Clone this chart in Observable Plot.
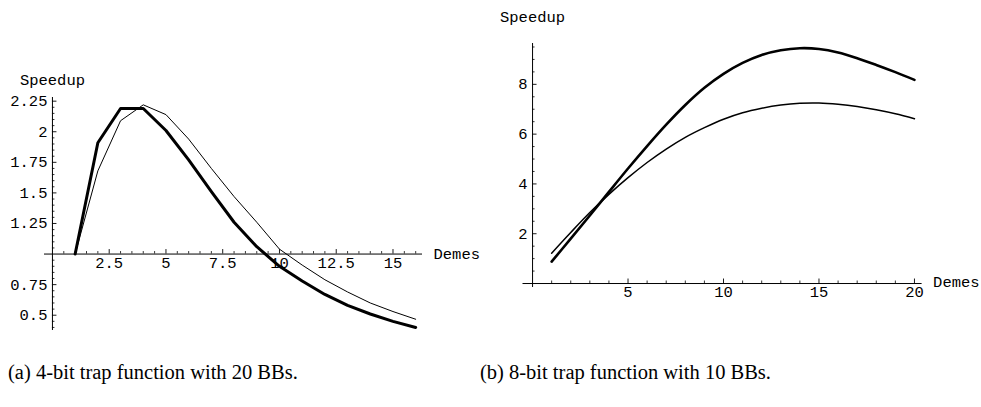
<!DOCTYPE html>
<html>
<head>
<meta charset="utf-8">
<script src="https://cdn.jsdelivr.net/npm/d3@7"></script>
<script src="https://cdn.jsdelivr.net/npm/@observablehq/plot@0.6"></script>
<style>
  html, body { margin: 0; padding: 0; background: #fff; }
  #page { position: relative; width: 981px; height: 407px; overflow: hidden; background: #fff; }
  .panel { position: absolute; top: 0; }
  .caption { position: absolute; font-family: "Liberation Serif", "DejaVu Serif", serif; font-size: 20.5px; line-height: 20px; color: #000; white-space: nowrap; }
</style>
</head>
<body>
<div id="page">
  <div id="left" class="panel" style="left:0px"></div>
  <div id="right" class="panel" style="left:490px"></div>
  <div class="caption" style="left:8px; top:362px">(a) 4-bit trap function with 20 BBs.</div>
  <div class="caption" style="left:480px; top:362px">(b) 8-bit trap function with 10 BBs.</div>
</div>
<script>
// ---------- (a) 4-bit trap function with 20 BBs ----------
const demesA = [1, 2, 3, 4, 5, 6, 7, 8, 9, 10, 11, 12, 13, 14, 15, 16];
const speedupA_thick = [1.00, 1.91, 2.19, 2.19, 2.01, 1.77, 1.51, 1.26, 1.06, 0.90, 0.78, 0.67, 0.58, 0.51, 0.45, 0.40];
const speedupA_thin  = [1.00, 1.68, 2.09, 2.22, 2.14, 1.94, 1.70, 1.47, 1.26, 1.04, 0.91, 0.79, 0.69, 0.60, 0.53, 0.467];
const xTicksA = [2.5, 5, 7.5, 10, 12.5, 15];
const xTickLabelsA = ["2.5", "5", "7.5", "10", "12.5", "15"];
const yTicksA = [0.5, 0.75, 1.25, 1.5, 1.75, 2, 2.25];
const yTickLabelsA = ["0.5", "0.75", "1.25", "1.5", "1.75", "2", "2.25"];
const xDomainA = [-0.35, 16.3];
const yDomainA = [0.375, 2.28];
const originA = {x: 0, y: 1};

// ---------- (b) 8-bit trap function with 10 BBs ----------
const demesB = [1, 2, 3, 4, 5, 6, 7, 8, 9, 10, 11, 12, 13, 14, 15, 16, 17, 18, 19, 20];
const speedupB_thick = [0.88, 1.80, 2.73, 3.68, 4.62, 5.52, 6.38, 7.17, 7.86, 8.42, 8.86, 9.18, 9.37, 9.45, 9.42, 9.28, 9.05, 8.78, 8.49, 8.18];
const speedupB_thin  = [1.22, 2.05, 2.85, 3.58, 4.25, 4.86, 5.40, 5.87, 6.26, 6.60, 6.86, 7.04, 7.17, 7.24, 7.25, 7.20, 7.11, 6.98, 6.82, 6.62];
const xTicksB = [5, 10, 15, 20];
const xTickLabelsB = ["5", "10", "15", "20"];
const yTicksB = [2, 4, 6, 8];
const yTickLabelsB = ["2", "4", "6", "8"];
const xDomainB = [-0.5, 20.4];
const yDomainB = [-0.16, 9.64];
const originB = {x: 0, y: 0};

const axisLabelX = "Demes";
const axisLabelY = "Speedup";
const monoFont = "Liberation Mono, Courier New, monospace";

function range(a, b, step) {
  const out = [];
  for (let v = a; v <= b + 1e-9; v += step) out.push(+v.toFixed(4));
  return out;
}

function mathematicaPanel(cfg) {
  const thick = cfg.xs.map((x, i) => ({x, y: cfg.thick[i]}));
  const thin = cfg.xs.map((x, i) => ({x, y: cfg.thin[i]}));
  const isMajor = (v, majors) => majors.some(m => Math.abs(m - v) < 1e-6);
  const minorX = range(Math.ceil(cfg.xDomain[0] / cfg.xMinorStep) * cfg.xMinorStep, cfg.xDomain[1], cfg.xMinorStep)
    .filter(v => Math.abs(v - cfg.origin.x) > 1e-6 && !isMajor(v, cfg.xTicks));
  const minorY = range(Math.ceil(cfg.yDomain[0] / cfg.yMinorStep) * cfg.yMinorStep, cfg.yDomain[1], cfg.yMinorStep)
    .filter(v => Math.abs(v - cfg.origin.y) > 1e-6 && !isMajor(v, cfg.yTicks));
  const xt = cfg.xTicks.map((v, i) => ({v, label: cfg.xLabels[i]}));
  const yt = cfg.yTicks.map((v, i) => ({v, label: cfg.yLabels[i]}));
  return Plot.plot({
    width: cfg.width,
    height: cfg.height,
    marginLeft: cfg.marginLeft,
    marginRight: cfg.marginRight,
    marginTop: cfg.marginTop,
    marginBottom: cfg.marginBottom,
    x: {domain: cfg.xDomain, axis: null},
    y: {domain: cfg.yDomain, axis: null},
    style: {fontFamily: monoFont, background: "#fff", overflow: "visible"},
    marks: [
      // axes lines crossing at origin
      Plot.ruleY([cfg.origin.y], {stroke: "#000", strokeWidth: 1}),
      Plot.ruleX([cfg.origin.x], {stroke: "#000", strokeWidth: 1}),
      // x ticks (pointing up)
      Plot.ruleX(minorX, {x: d => d, y1: cfg.origin.y, y2: cfg.origin.y, insetTop: -2.5, stroke: "#000", strokeWidth: 0.8}),
      Plot.ruleX(xt, {x: "v", y1: cfg.origin.y, y2: cfg.origin.y, insetTop: -4.5, stroke: "#000", strokeWidth: 0.9}),
      // y ticks (pointing right)
      Plot.ruleY(minorY, {y: d => d, x1: cfg.origin.x, x2: cfg.origin.x, insetRight: -2.5, stroke: "#000", strokeWidth: 0.8}),
      Plot.ruleY(yt, {y: "v", x1: cfg.origin.x, x2: cfg.origin.x, insetRight: -4.5, stroke: "#000", strokeWidth: 0.9}),
      // tick labels
      Plot.text(xt, {x: "v", y: () => cfg.origin.y, text: "label", dy: cfg.xLabelDy, fontSize: cfg.fontSize, fill: "#000"}),
      Plot.text(yt, {y: "v", x: () => cfg.origin.x, text: "label", dx: -5, textAnchor: "end", fontSize: cfg.fontSize, fill: "#000"}),
      // axis labels
      Plot.text([axisLabelX], {y: () => cfg.origin.y, frameAnchor: "right", dx: 11, dy: cfg.demesDy, textAnchor: "start", fontSize: cfg.fontSize, fill: "#000"}),
      Plot.text([axisLabelY], {x: () => cfg.origin.x, frameAnchor: "top", dy: cfg.labelDy, fontSize: cfg.fontSize, fill: "#000"}),
      // data
      Plot.line(thin, {x: "x", y: "y", stroke: "#000", strokeWidth: cfg.thinWidth, curve: cfg.curve}),
      Plot.line(thick, {x: "x", y: "y", stroke: "#000", strokeWidth: cfg.thickWidth, curve: cfg.curve})
    ]
  });
}

document.getElementById("left").append(mathematicaPanel({
  xs: demesA, thick: speedupA_thick, thin: speedupA_thin,
  xTicks: xTicksA, xLabels: xTickLabelsA, yTicks: yTicksA, yLabels: yTickLabelsA,
  xDomain: xDomainA, yDomain: yDomainA, origin: originA,
  xMinorStep: 0.5, yMinorStep: 0.05,
  width: 490, height: 340, marginLeft: 44, marginRight: 68, marginTop: 97, marginBottom: 10,
  labelDy: -24, xLabelDy: 9, demesDy: 0, fontSize: 15.5, thinWidth: 1, thickWidth: 3, curve: "linear"
}));

document.getElementById("right").append(mathematicaPanel({
  xs: demesB, thick: speedupB_thick, thin: speedupB_thin,
  xTicks: xTicksB, xLabels: xTickLabelsB, yTicks: yTicksB, yLabels: yTickLabelsB,
  xDomain: xDomainB, yDomain: yDomainB, origin: originB,
  xMinorStep: 1, yMinorStep: 0.5,
  width: 491, height: 310, marginLeft: 32.5, marginRight: 59.4, marginTop: 43, marginBottom: 23,
  labelDy: -33, xLabelDy: 9, demesDy: -1.5, fontSize: 15.5, thinWidth: 1.5, thickWidth: 2.6, curve: "catmull-rom"
}));
</script>
</body>
</html>
